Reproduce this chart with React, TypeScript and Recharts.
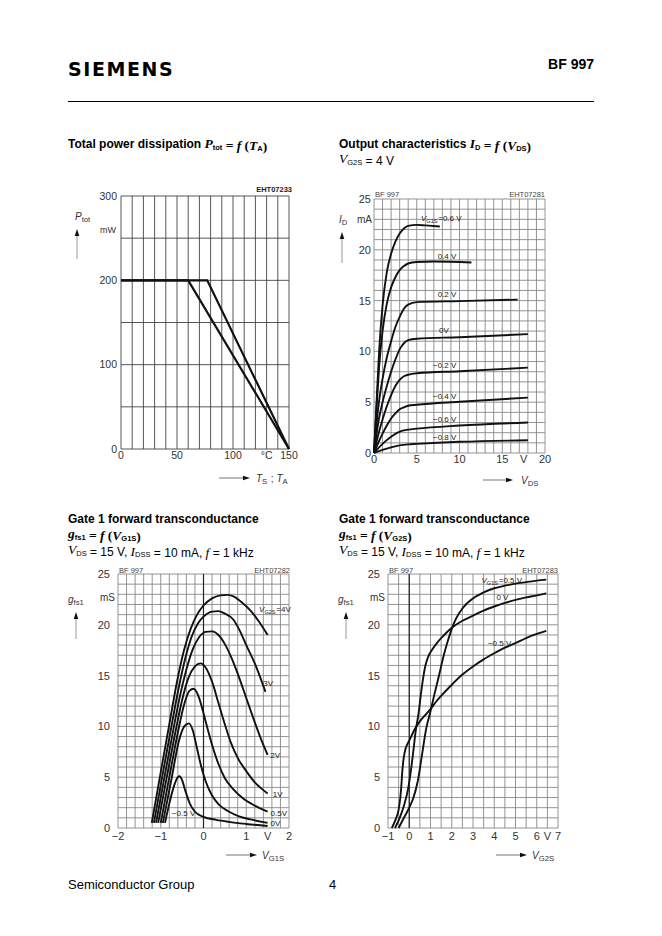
import React from "react";
import { CartesianGrid, Line, LineChart, ReferenceDot, ReferenceLine, XAxis, YAxis } from "recharts";

type Pt = [number, number];

const NARROW = '"Liberation Sans Narrow", "Liberation Sans", Arial, sans-serif';
const SANS = '"Liberation Sans", Arial, sans-serif';
const SERIF = '"Liberation Serif", "Times New Roman", serif';

const steps = (a: number, b: number, s: number) =>
  Array.from({ length: Math.round((b - a) / s) + 1 }, (_, i) => +(a + i * s).toFixed(2));

// Total power dissipation Ptot = f(TA)
const tempGrid = steps(0, 150, 10);
const tempTicks = [0, 50, 100, 130, 150];
const powerGrid = steps(0, 300, 50);
const powerTicks = [0, 100, 200, 300];
const ptotTA: Pt[] = [[0, 200], [60, 200], [150, 0]];
const ptotTS: Pt[] = [[0, 200], [77, 200], [150, 0]];

// Output characteristics ID = f(VDS), VG2S = 4 V
const vdsGrid = steps(0, 20, 1);
const vdsTicks = [0, 5, 10, 15, 17.5, 20];
const idGrid = steps(0, 25, 1);
const idTicks = [0, 5, 10, 15, 20, 25];
const idG1_06: Pt[] = [[0, 0], [0.3, 5], [0.6, 10], [1, 14.5], [1.5, 17.8], [2, 19.6], [2.5, 20.8], [3, 21.6], [3.5, 22.1], [4, 22.35], [5, 22.45], [6, 22.4], [7.7, 22.3]];
const idG1_04: Pt[] = [[0, 0], [0.3, 4.5], [0.6, 8.5], [1, 12], [1.5, 14.7], [2, 16.3], [2.5, 17.3], [3, 18], [3.5, 18.4], [4, 18.65], [5, 18.8], [7, 18.85], [11.4, 18.75]];
const idG1_02: Pt[] = [[0, 0], [0.5, 4.5], [1, 7.3], [1.5, 9.4], [2, 11], [2.5, 12.4], [3, 13.4], [3.5, 14.2], [4, 14.6], [5, 14.85], [10, 14.95], [16.8, 15.1]];
const idG1_0: Pt[] = [[0, 0], [0.5, 3], [1, 5], [1.5, 6.6], [2, 8], [2.5, 9.2], [3, 10.2], [3.5, 10.8], [4, 11.1], [5, 11.25], [10, 11.4], [18, 11.7]];
const idG1_m02: Pt[] = [[0, 0], [0.5, 1.8], [1, 3.3], [1.5, 4.6], [2, 5.7], [2.5, 6.6], [3, 7.2], [3.5, 7.55], [4, 7.7], [5, 7.85], [10, 8.05], [18, 8.4]];
const idG1_m04: Pt[] = [[0, 0], [0.5, 1], [1, 1.9], [1.5, 2.7], [2, 3.4], [2.5, 3.9], [3, 4.3], [3.5, 4.5], [4, 4.65], [5, 4.75], [10, 5.05], [18, 5.45]];
const idG1_m06: Pt[] = [[0, 0], [1, 0.9], [2, 1.6], [3, 2.1], [4, 2.3], [5, 2.4], [10, 2.7], [18, 3.0]];
const idG1_m08: Pt[] = [[0, 0], [1, 0.3], [2, 0.55], [3, 0.75], [4, 0.85], [5, 0.9], [10, 1.1], [18, 1.25]];

// Gate 1 forward transconductance gfs1 = f(VG1S)
const vg1Grid = steps(-2, 2, 0.2);
const vg1Ticks = [-2, -1, 0, 1, 1.5, 2];
const gfsGrid = steps(0, 25, 1);
const gfsTicks = [0, 5, 10, 15, 20, 25];
const gfsG2_4: Pt[] = [[-1.21, 0.5], [-1.0, 5.5], [-0.8, 10.2], [-0.62, 14.4], [-0.45, 17.6], [-0.3, 19.6], [-0.15, 21.0], [0, 21.9], [0.2, 22.6], [0.4, 22.9], [0.55, 22.95], [0.7, 22.8], [0.9, 22.2], [1.1, 21.4], [1.3, 20.3], [1.5, 19.0]];
const gfsG2_3: Pt[] = [[-1.16, 0.5], [-0.95, 5.4], [-0.75, 10.0], [-0.58, 13.8], [-0.42, 16.8], [-0.28, 18.8], [-0.12, 20.2], [0, 20.8], [0.2, 21.3], [0.35, 21.35], [0.5, 21.1], [0.7, 20.5], [0.85, 19.4], [1.0, 18.0], [1.2, 16.2], [1.45, 13.4]];
const gfsG2_2: Pt[] = [[-1.11, 0.5], [-0.9, 5.3], [-0.7, 9.8], [-0.55, 13.0], [-0.4, 15.6], [-0.25, 17.6], [-0.1, 18.8], [0.05, 19.3], [0.2, 19.35], [0.35, 19.0], [0.5, 18.1], [0.65, 16.8], [0.8, 15.2], [1.0, 12.8], [1.2, 10.4], [1.35, 8.7], [1.5, 7.2]];
const gfsG2_1: Pt[] = [[-1.06, 0.5], [-0.85, 5.2], [-0.65, 9.6], [-0.5, 12.6], [-0.35, 14.8], [-0.2, 15.9], [-0.07, 16.2], [0.05, 15.8], [0.2, 14.4], [0.35, 12.3], [0.5, 10.2], [0.65, 8.3], [0.8, 6.9], [1.0, 5.6], [1.2, 4.5], [1.35, 3.9], [1.5, 3.4]];
const gfsG2_05: Pt[] = [[-1.0, 0.5], [-0.8, 5.0], [-0.6, 9.4], [-0.45, 12.2], [-0.33, 13.5], [-0.23, 13.7], [-0.12, 13.0], [0, 11.3], [0.1, 9.7], [0.2, 8.2], [0.35, 6.3], [0.5, 4.9], [0.7, 3.8], [0.9, 3.0], [1.2, 2.2], [1.5, 1.6]];
const gfsG2_0: Pt[] = [[-0.95, 0.5], [-0.75, 4.8], [-0.58, 8.5], [-0.45, 10.0], [-0.34, 10.3], [-0.25, 9.6], [-0.15, 7.8], [-0.05, 6.0], [0.05, 4.6], [0.2, 3.2], [0.36, 2.3], [0.6, 1.6], [0.83, 1.15], [1.1, 0.85], [1.5, 0.5]];
const gfsG2_m05: Pt[] = [[-0.9, 0.5], [-0.8, 2.4], [-0.7, 4.0], [-0.6, 5.0], [-0.56, 5.1], [-0.5, 4.7], [-0.42, 3.6], [-0.32, 2.4], [-0.2, 1.6], [0, 1.1], [0.3, 0.8], [0.6, 0.6], [1.0, 0.4], [1.5, 0.2]];

// Gate 1 forward transconductance gfs1 = f(VG2S)
const vg2Grid = steps(-1, 7, 0.5);
const vg2Ticks = [-1, 0, 1, 2, 3, 4, 5, 6, 6.5, 7];
const gfsG1_05: Pt[] = [[-0.5, 0], [-0.2, 1.2], [0, 2.0], [0.2, 3.0], [0.4, 4.6], [0.6, 7.2], [0.8, 9.8], [1.0, 11.5], [1.2, 13.3], [1.4, 15.0], [1.6, 16.8], [1.8, 18.3], [2.0, 19.6], [2.2, 20.6], [2.5, 21.6], [3, 22.6], [3.5, 23.2], [4, 23.6], [4.5, 23.85], [5, 24.05], [5.5, 24.2], [6, 24.35], [6.45, 24.45]];
const gfsG1_0: Pt[] = [[-0.67, 0], [-0.45, 1.0], [-0.25, 2.2], [-0.05, 3.9], [0.1, 6.0], [0.2, 7.7], [0.3, 9.5], [0.44, 11.3], [0.55, 13.2], [0.65, 14.7], [0.75, 15.9], [0.9, 16.9], [1.06, 17.5], [1.3, 18.2], [1.6, 18.9], [2.0, 19.7], [2.5, 20.4], [3, 20.9], [3.5, 21.4], [4, 21.8], [4.5, 22.15], [5, 22.45], [5.5, 22.7], [6, 22.9], [6.45, 23.1]];
const gfsG1_m05: Pt[] = [[-0.82, 0], [-0.65, 0.8], [-0.5, 1.8], [-0.42, 3.0], [-0.37, 4.2], [-0.33, 5.5], [-0.28, 6.6], [-0.2, 7.6], [-0.1, 8.2], [0, 8.6], [0.25, 9.7], [0.5, 10.5], [0.75, 11.1], [1.0, 11.7], [1.25, 12.4], [1.5, 13.0], [2.0, 14.1], [2.5, 15.1], [3, 15.9], [3.5, 16.6], [4, 17.2], [4.5, 17.75], [5, 18.2], [5.5, 18.7], [6, 19.1], [6.45, 19.4]];

const toXY = (pts: Pt[]) => pts.map(([x, y]) => ({ x, y }));
const num = (v: number) => (v < 0 ? `\u2212${-v}` : String(v));

const curve = (key: string, pts: Pt[], type: "monotone" | "linear" = "monotone", w = 1.9) => (
  <Line
    key={key}
    data={toXY(pts)}
    dataKey="y"
    type={type}
    stroke="#111"
    strokeWidth={w}
    dot={false}
    activeDot={false}
    isAnimationActive={false}
  />
);

const sub = (main: string, s: string, size = 8) => (
  <>
    <tspan fontStyle="italic">{main}</tspan>
    <tspan fontSize={size * 0.7} dy={2}>{s}</tspan>
    <tspan dy={-2}>{"\u200a"}</tspan>
  </>
);

const tag = (key: string, x: number, y: number, content: React.ReactNode) => (
  <ReferenceDot
    key={key}
    x={x}
    y={y}
    r={0}
    ifOverflow="visible"
    shape={(p: any) => (
      <text x={p.cx} y={p.cy} dy="0.35em" fontSize={8} fill="#222" fontFamily={NARROW}>
        {content}
      </text>
    )}
  />
);

function Plot(props: {
  left: number;
  top: number;
  w: number;
  h: number;
  xDomain: [number, number];
  yDomain: [number, number];
  xGrid: number[];
  yGrid: number[];
  xTicks: number[];
  yTicks: number[];
  xFmt: (v: number) => string;
  grid: string;
  yGap: number;
  xGap: number;
  font: number;
  children: React.ReactNode;
}) {
  const pad = 14;
  const yw = 40;
  const xh = 24;
  const tick = { fill: "#333", fontSize: props.font, fontFamily: NARROW };
  return (
    <div style={{ position: "absolute", left: props.left - yw, top: props.top - pad }}>
      <LineChart
        width={props.w + yw + pad}
        height={props.h + pad + xh}
        margin={{ top: pad, right: pad, bottom: 0, left: 0 }}
      >
        <CartesianGrid stroke={props.grid} strokeWidth={0.9} verticalValues={props.xGrid} horizontalValues={props.yGrid} />
        <XAxis
          type="number"
          dataKey="x"
          domain={props.xDomain}
          ticks={props.xTicks}
          tickFormatter={props.xFmt}
          interval={0}
          axisLine={false}
          tickLine={false}
          tickSize={0}
          tickMargin={props.xGap}
          height={xh}
          tick={tick}
        />
        <YAxis
          type="number"
          dataKey="y"
          domain={props.yDomain}
          ticks={props.yTicks}
          tickFormatter={num}
          interval={0}
          axisLine={false}
          tickLine={false}
          tickSize={0}
          tickMargin={props.yGap}
          width={yw}
          tick={tick}
        />
        {props.children}
      </LineChart>
    </div>
  );
}

function UpArrow({ x, y, len }: { x: number; y: number; len: number }) {
  return (
    <g>
      <line x1={x} y1={y + 6} x2={x} y2={y + len} stroke="#999" strokeWidth={1} />
      <polygon points={`${x},${y} ${x - 2.3},${y + 7} ${x + 2.3},${y + 7}`} fill="#111" />
    </g>
  );
}

function RightArrow({ x, y, len }: { x: number; y: number; len: number }) {
  const e = x + len;
  return (
    <g>
      <line x1={x} y1={y} x2={e - 6} y2={y} stroke="#777" strokeWidth={1} />
      <polygon points={`${e},${y} ${e - 7},${y - 2.3} ${e - 7},${y + 2.3}`} fill="#111" />
    </g>
  );
}

function Title({ x, y, children }: { x: number; y: number; children: React.ReactNode }) {
  return (
    <text x={x} y={y} fontFamily={SANS} fontWeight={700} fontSize={12} fill="#000">
      {children}
    </text>
  );
}

const V = (t: string) => (
  <tspan fontFamily={SERIF} fontStyle="italic" fontSize={13.5}>
    {t}
  </tspan>
);
const S = (t: string) => (
  <>
    <tspan fontSize={7.5} dy={1.5}>{t}</tspan>
    <tspan dy={-1.5}>{""}</tspan>
  </>
);
const F = (t: string) => (
  <tspan fontFamily={SERIF} fontSize={13.5}>
    {t}
  </tspan>
);

const axisName = { fontFamily: SANS, fontSize: 10, fill: "#333" };
const corner = { fontFamily: NARROW, fontSize: 7.5, fill: "#444" };

export default function App() {
  return (
    <div style={{ position: "relative", width: 662, height: 936, background: "#fff", overflow: "hidden" }}>
      <style>{"body{margin:0}"}</style>

      <Plot
        left={121}
        top={196}
        w={168}
        h={253}
        xDomain={[0, 150]}
        yDomain={[0, 300]}
        xGrid={tempGrid}
        yGrid={powerGrid}
        xTicks={tempTicks}
        yTicks={powerTicks}
        xFmt={(v) => (v === 130 ? "\u00b0C" : num(v))}
        grid="#444"
        yGap={4}
        xGap={3}
        font={10.5}
      >
        {curve("ta", ptotTA, "linear", 2.2)}
        {curve("ts", ptotTS, "linear", 2.2)}
      </Plot>

      <Plot
        left={374}
        top={199}
        w={171}
        h={254}
        xDomain={[0, 20]}
        yDomain={[0, 25]}
        xGrid={vdsGrid}
        yGrid={idGrid}
        xTicks={vdsTicks}
        yTicks={idTicks}
        xFmt={(v) => (v === 17.5 ? "V" : num(v))}
        grid="#888"
        yGap={3}
        xGap={2}
        font={11}
      >
        {curve("o06", idG1_06)}
        {curve("o04", idG1_04)}
        {curve("o02", idG1_02)}
        {curve("o0", idG1_0)}
        {curve("om02", idG1_m02)}
        {curve("om04", idG1_m04)}
        {curve("om06", idG1_m06)}
        {curve("om08", idG1_m08)}
        {tag("l06", 5.5, 23.1, <>{sub("V", "G1S")}=0.6 V</>)}
        {tag("l04", 7.45, 19.4, "0.4 V")}
        {tag("l02", 7.45, 15.6, "0.2 V")}
        {tag("l0", 7.6, 12.1, "0V")}
        {tag("lm02", 6.9, 8.6, "\u22120.2 V")}
        {tag("lm04", 6.9, 5.6, "\u22120.4 V")}
        {tag("lm06", 6.9, 3.3, "\u22120.6 V")}
        {tag("lm08", 6.9, 1.6, "\u22120.8 V")}
      </Plot>

      <Plot
        left={118}
        top={574}
        w={171}
        h={254}
        xDomain={[-2, 2]}
        yDomain={[0, 25]}
        xGrid={vg1Grid}
        yGrid={gfsGrid}
        xTicks={vg1Ticks}
        yTicks={gfsTicks}
        xFmt={(v) => (v === 1.5 ? "V" : num(v))}
        grid="#888"
        yGap={8}
        xGap={4}
        font={11}
      >
        <ReferenceLine x={0} stroke="#222" strokeWidth={1.2} />
        {curve("g4", gfsG2_4)}
        {curve("g3", gfsG2_3)}
        {curve("g2", gfsG2_2)}
        {curve("g1", gfsG2_1)}
        {curve("g05", gfsG2_05)}
        {curve("g0", gfsG2_0)}
        {curve("gm05", gfsG2_m05)}
        {tag("t4", 1.3, 21.5, <>{sub("V", "G2S")}=4V</>)}
        {tag("t3", 1.4, 14.3, "3V")}
        {tag("t2", 1.56, 7.2, "2V")}
        {tag("t1", 1.62, 3.3, "1V")}
        {tag("t05", 1.57, 1.5, "0.5V")}
        {tag("t0", 1.57, 0.5, "0V")}
        {tag("tm05", -0.74, 1.5, "\u22120.5 V")}
      </Plot>

      <Plot
        left={388}
        top={574}
        w={170}
        h={254}
        xDomain={[-1, 7]}
        yDomain={[0, 25]}
        xGrid={vg2Grid}
        yGrid={gfsGrid}
        xTicks={vg2Ticks}
        yTicks={gfsTicks}
        xFmt={(v) => (v === 6.5 ? "V" : num(v))}
        grid="#888"
        yGap={8}
        xGap={4}
        font={11}
      >
        <ReferenceLine x={0} stroke="#222" strokeWidth={1.2} />
        {curve("h05", gfsG1_05)}
        {curve("h0", gfsG1_0)}
        {curve("hm05", gfsG1_m05)}
        {tag("u05", 3.4, 24.4, <>{sub("V", "G1S")}=0.5 V</>)}
        {tag("u0", 4.1, 22.7, "0 V")}
        {tag("um05", 3.7, 18.2, "\u22120.5 V")}
      </Plot>

      <svg width={662} height={936} style={{ position: "absolute", left: 0, top: 0, pointerEvents: "none" }}>
        <text x={68} y={76} fontFamily='"DejaVu Sans", sans-serif' fontWeight={700} fontSize={19} letterSpacing={1.6} fill="#000">
          SIEMENS
        </text>
        <text x={594} y={69} textAnchor="end" fontFamily={SANS} fontWeight={700} fontSize={14} fill="#000">
          BF 997
        </text>
        <line x1={68} y1={101.5} x2={594} y2={101.5} stroke="#000" strokeWidth={1} />

        <Title x={68} y={148}>
          Total power dissipation {V("P")}
          {S("tot")} {F("=")} {V("f")} {F("(")}
          {V("T")}
          {S("A")}
          {F(")")}
        </Title>
        <Title x={339} y={148}>
          Output characteristics {V("I")}
          {S("D")} {F("=")} {V("f")} {F("(")}
          {V("V")}
          {S("DS")}
          {F(")")}
        </Title>
        <text x={339} y={163} fontFamily={SANS} fontSize={12} fill="#000">
          {V("V")}
          {S("G2S")} = 4 V
        </text>

        {[68, 339].map((x, i) => (
          <g key={x}>
            <Title x={x} y={523}>
              Gate 1 forward transconductance
            </Title>
            <Title x={x} y={538}>
              {V("g")}
              {S("fs1")} {F("=")} {V("f")} {F("(")}
              {V("V")}
              {S(i === 0 ? "G1S" : "G2S")}
              {F(")")}
            </Title>
            <text x={x} y={554} fontFamily={SANS} fontSize={12} fill="#000">
              {V("V")}
              {S("DS")} = 15 V, {V("I")}
              {S("DSS")} = 10 mA, {V("f")} = 1 kHz
            </text>
          </g>
        ))}

        {/* chart 1 annotations */}
        <text x={292} y={192} textAnchor="end" {...corner} fontWeight={700} fill="#222">EHT07233</text>
        <text x={75} y={220} {...axisName}>
          {sub("P", "tot", 11)}
        </text>
        <text x={100} y={233} {...axisName} fontSize={9}>mW</text>
        <UpArrow x={77} y={229} len={30} />
        <RightArrow x={219} y={478} len={31} />
        <text x={256} y={482} {...axisName}>
          {sub("T", "S", 11)} ; {sub("T", "A", 11)}
        </text>

        {/* chart 2 annotations */}
        <text x={375} y={197} {...corner}>BF  997</text>
        <text x={545} y={197} textAnchor="end" {...corner}>EHT07281</text>
        <text x={339} y={223} {...axisName}>
          {sub("I", "D", 11)}
        </text>
        <text x={357} y={223} {...axisName}>mA</text>
        <UpArrow x={342} y={232} len={31} />
        <RightArrow x={483} y={480} len={30} />
        <text x={521} y={484} {...axisName}>
          {sub("V", "DS", 11)}
        </text>

        {/* chart 3 annotations */}
        <text x={119} y={573} {...corner}>BF  997</text>
        <text x={290} y={573} textAnchor="end" {...corner}>EHT07282</text>
        <text x={68} y={603} {...axisName}>
          {sub("g", "fs1", 11)}
        </text>
        <text x={100} y={601} {...axisName}>mS</text>
        <UpArrow x={76} y={612} len={27} />
        <RightArrow x={226} y={855} len={31} />
        <text x={262} y={859} {...axisName}>
          {sub("V", "G1S", 11)}
        </text>

        {/* chart 4 annotations */}
        <text x={389} y={573} {...corner}>BF  997</text>
        <text x={558} y={573} textAnchor="end" {...corner}>EHT07283</text>
        <text x={338} y={603} {...axisName}>
          {sub("g", "fs1", 11)}
        </text>
        <text x={370} y={601} {...axisName}>mS</text>
        <UpArrow x={346} y={612} len={27} />
        <RightArrow x={496} y={855} len={31} />
        <text x={532} y={859} {...axisName}>
          {sub("V", "G2S", 11)}
        </text>

        <text x={68} y={889} fontFamily={SANS} fontSize={13} fill="#000">Semiconductor Group</text>
        <text x={329} y={889} fontFamily={SANS} fontSize={13} fill="#000">4</text>
      </svg>
    </div>
  );
}
